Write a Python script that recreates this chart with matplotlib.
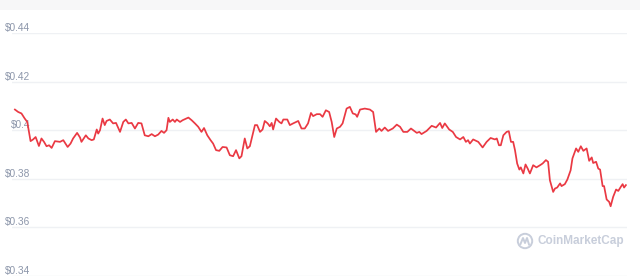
import numpy as np
import matplotlib.pyplot as plt
from matplotlib.patches import Circle, Rectangle
from matplotlib.transforms import blended_transform_factory

# time in hours over the 7-day window, price in USD
hours = [0, 0.9, 1.8, 2.7, 3.4, 4.3, 5.0, 5.7, 6.6, 7.3, 8.0, 8.7, 9.4, 10.1, 11.0,
         12.4, 13.3, 14.5, 15.3, 16.0, 17.1, 17.9, 18.3, 19.5, 20.2, 21.1, 21.7, 22.5,
         22.9, 23.4, 24.1, 24.7, 25.2, 26.1, 27.0, 27.8, 28.9, 29.8, 30.5, 31.2, 32.1,
         33.0, 33.9, 34.8, 35.7, 36.7, 37.6, 38.5, 39.4, 40.3, 41.0, 41.7, 42.2, 42.6,
         43.4, 44.0, 44.5, 45.4, 46.1, 46.7, 47.7, 48.6, 49.5, 50.4, 51.3, 52.0, 52.9,
         53.8, 54.5, 55.3, 56.2, 57.1, 58.2, 59.1, 60.0, 60.8, 61.7, 62.3, 63.2, 63.9,
         64.6, 66.0, 66.6, 67.4, 68.1, 68.7, 69.5, 70.1, 70.6, 71.0, 71.8, 72.7, 73.3,
         73.8, 74.9, 75.6, 76.5, 77.9, 78.8, 79.7, 80.6, 81.4, 82.0, 83.0, 83.9, 84.6,
         85.5, 86.4, 87.1, 87.8, 88.5, 89.4, 90.1, 91.2, 92.1, 92.9, 93.7, 94.1, 94.9,
         96.2, 97.6, 98.5, 99.3, 100.2, 100.8, 101.7, 102.6, 103.9, 105.0, 105.9, 106.8,
         107.9, 108.9, 110.5, 111.2, 111.8, 113.2, 114.6, 115.8, 116.9, 117.5, 118.2,
         119.4, 120.4, 121.3, 122.4, 123.3, 124.0, 124.6, 125.1, 126.0, 127.4, 128.6,
         129.7, 130.8, 132.0, 132.5, 133.1, 133.6, 134.3, 135.2, 135.8, 136.4, 137.0,
         137.5, 138.1, 138.7, 139.1, 139.8, 140.4, 141.0, 141.6, 142.5, 143.4, 144.4,
         145.1, 146.0, 146.6, 147.1, 147.6, 148.0, 148.5, 149.1, 149.9, 150.3, 151.2,
         151.9, 152.8, 153.3, 154.3, 154.9, 155.6, 156.3, 157.2, 157.9, 158.6, 159.0,
         159.8, 160.4, 160.9, 161.6, 162.0, 162.7, 163.4, 163.8, 164.5, 165.3, 165.9,
         166.6, 167.1, 167.5, 168.0]
price = [0.4085, 0.4075, 0.4069, 0.4048, 0.4034, 0.3955, 0.3962, 0.3972, 0.3935, 0.3966,
         0.3952, 0.3934, 0.3938, 0.3927, 0.3955, 0.3952, 0.3959, 0.3931, 0.3945, 0.3966,
         0.3989, 0.3970, 0.3952, 0.3979, 0.3966, 0.3959, 0.3962, 0.4003, 0.3986, 0.4000,
         0.4048, 0.4021, 0.4038, 0.4044, 0.4028, 0.4030, 0.3993, 0.4034, 0.4044, 0.4028,
         0.4030, 0.4007, 0.4030, 0.4028, 0.3979, 0.3975, 0.3984, 0.3975, 0.3982, 0.3997,
         0.3989, 0.4000, 0.4051, 0.4034, 0.4044, 0.4034, 0.4044, 0.4034, 0.4041, 0.4045,
         0.4052, 0.4041, 0.4028, 0.4014, 0.3993, 0.4009, 0.3979, 0.3959, 0.3945, 0.3918,
         0.3915, 0.3931, 0.3929, 0.3897, 0.3893, 0.3918, 0.3884, 0.3893, 0.3966, 0.3925,
         0.3934, 0.4021, 0.4021, 0.3993, 0.4003, 0.4038, 0.4028, 0.4016, 0.4030, 0.4003,
         0.4048, 0.4034, 0.4028, 0.4044, 0.4044, 0.4021, 0.4028, 0.4038, 0.4007, 0.4007,
         0.4028, 0.4071, 0.4058, 0.4066, 0.4066, 0.4055, 0.4082, 0.4075, 0.4034, 0.3972,
         0.4007, 0.4014, 0.4028, 0.4089, 0.4096, 0.4069, 0.4065, 0.4055, 0.4085, 0.4089,
         0.4085, 0.4075, 0.3993, 0.4007, 0.3997, 0.4011, 0.3997, 0.4007, 0.4023, 0.4014,
         0.3993, 0.3993, 0.4007, 0.3989, 0.3993, 0.3984, 0.3997, 0.4018, 0.4011, 0.4030,
         0.4009, 0.4028, 0.4003, 0.3993, 0.3972, 0.3962, 0.3972, 0.3952, 0.3959, 0.3945,
         0.3962, 0.3952, 0.3929, 0.3952, 0.3968, 0.3962, 0.3966, 0.3938, 0.3938, 0.3979,
         0.3993, 0.3996, 0.3952, 0.3952, 0.3918, 0.3863, 0.3838, 0.3847, 0.3822, 0.3859,
         0.3842, 0.3822, 0.3856, 0.3847, 0.3856, 0.3863, 0.3877, 0.3870, 0.3794, 0.3767,
         0.3746, 0.3760, 0.3764, 0.3781, 0.3770, 0.3778, 0.3797, 0.3835, 0.3884, 0.3925,
         0.3911, 0.3934, 0.3915, 0.3925, 0.3874, 0.3888, 0.3865, 0.3870, 0.3842, 0.3838,
         0.3770, 0.3770, 0.3715, 0.3705, 0.3687, 0.3726, 0.3756, 0.3750, 0.3767, 0.3778,
         0.3764, 0.3774]
y_ticks = [0.34, 0.36, 0.38, 0.40, 0.42, 0.44]
y_labels = ["$0.34", "$0.36", "$0.38", "$0.4", "$0.42", "$0.44"]

W, H = 640, 278
plt.rcParams["font.family"] = ["Liberation Sans", "DejaVu Sans"]
fig = plt.figure(figsize=(W / 100, H / 100), dpi=100)
fig.patch.set_facecolor("white")

# faint band along the top edge
fig.patches.append(Rectangle((0, 1 - 10 / H), 1, 10 / H, transform=fig.transFigure,
                             facecolor="#f7f7f8", edgecolor="none", zorder=0))

ax = fig.add_axes([12 / W, 2 / H, 615 / W, 243 / H])
ax.set_facecolor("none")
ax.set_xlim(-0.8, 168.3)
ax.set_ylim(0.34, 0.44)
for s in ax.spines.values():
    s.set_visible(False)
ax.set_xticks([])
ax.set_yticks(y_ticks)
ax.tick_params(axis="y", length=0, labelleft=False)
ax.grid(axis="y", color="#eff1f4", linewidth=1.0)
ax.set_axisbelow(True)

# price labels sit just above their grid lines, inside the plot
lab_tr = blended_transform_factory(fig.transFigure, ax.transData)
for v, lab in zip(y_ticks, y_labels):
    ax.text(30.5 / W, v, lab, transform=lab_tr, ha="right", va="bottom",
            fontsize=7.3, color="#8c96aa", zorder=1)

ax.plot(hours, price, color="#ea3943", linewidth=1.25, zorder=3)

# CoinMarketCap watermark (logo drawn in inches so the circle stays round)
wm = "#c8cedb"
inch = fig.dpi_scale_trans
cx, cy = 5.25, (H - 241) / 100
fig.patches.append(Circle((cx, cy), 0.072, transform=inch,
                          facecolor="none", edgecolor=wm, linewidth=1.4))
fig.lines.append(plt.Line2D([cx - 0.045, cx - 0.02, cx, cx + 0.02, cx + 0.04],
                            [cy - 0.03, cy + 0.03, cy - 0.02, cy + 0.03, cy - 0.035],
                            transform=inch, color=wm, linewidth=1.4))
fig.text(538 / W, 1 - 241 / H, "CoinMarketCap", color=wm, fontsize=8.5,
         fontweight="bold", ha="left", va="center")

fig.savefig("out.png", dpi=100)
